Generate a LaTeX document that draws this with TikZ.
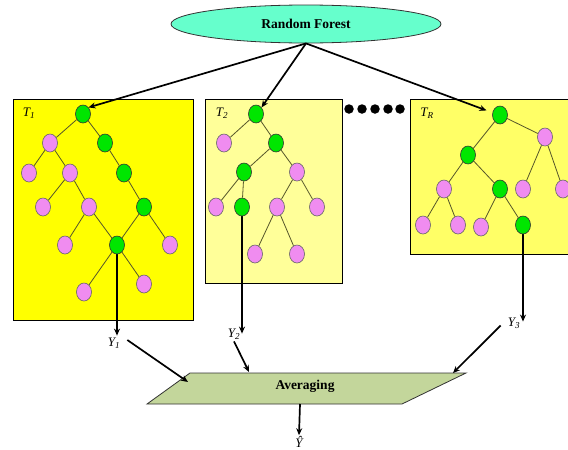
\documentclass[tikz,border=0pt]{standalone}
\usepackage{fontspec}
\setmainfont{Liberation Serif}
\usetikzlibrary{shapes.geometric,arrows.meta}
\definecolor{rfcyan}{HTML}{66FFCC}
\definecolor{leafpink}{HTML}{F08CF0}
\definecolor{splitgreen}{HTML}{00E600}
\definecolor{boxA}{HTML}{FFFF00}
\definecolor{boxB}{HTML}{FFFF99}
\definecolor{boxC}{HTML}{FFFF66}
\definecolor{avgfill}{HTML}{C3D69B}
\definecolor{edgecol}{HTML}{55552A}
\pgfdeclarelayer{bg}
\pgfdeclarelayer{mid}
\pgfsetlayers{bg,mid,main}
\tikzset{
  gn/.style={ellipse,draw=black!80,line width=0.6pt,fill=splitgreen,minimum width=15pt,minimum height=18pt,inner sep=0pt},
  pn/.style={ellipse,draw=black!60,line width=0.6pt,fill=leafpink,minimum width=15pt,minimum height=18pt,inner sep=0pt},
  te/.style={draw=edgecol,line width=0.8pt},
  treebox/.style={draw=black,line width=0.9pt},
  bigarrow/.style={draw=black,line width=1.7pt,-{Stealth[length=7pt,width=6pt]}},
  lbl/.style={font=\itshape\fontsize{13}{14}\selectfont,inner sep=1pt},
  dotn/.style={circle,fill=black,minimum size=9.5pt,inner sep=0pt}
}
\begin{document}
\begin{tikzpicture}[x=1pt,y=-1pt]
\useasboundingbox (0,0) rectangle (568,450);
% Random Forest ellipse
\node[ellipse,draw=black!80,line width=0.8pt,fill=rfcyan,minimum width=270pt,minimum height=38pt,font=\bfseries\fontsize{13.5}{15}\selectfont] (rf) at (306,24) {Random Forest};
% boxes
\begin{pgfonlayer}{bg}
\fill[boxA,treebox] (13,99) rectangle (193,320);
\fill[boxB,treebox] (205,99) rectangle (342,283);
\fill[boxC,treebox] (410,99) rectangle (570,254);
\end{pgfonlayer}
\node[lbl] (t1) at (29,113) {T\textsubscript{\textit{1}}};
\node[lbl] (t2) at (222,113) {T\textsubscript{\textit{2}}};
\node[lbl] (tr) at (427,113) {T\textsubscript{\textit{R}}};
% dots
\foreach \i/\x in {1/349,2/362,3/375,4/388,5/400} \node[dotn] (d\i) at (\x,109) {};
% ---- Tree 1
\node[gn] (a1) at (83,114) {};
\node[pn] (a2) at (50,143) {};
\node[gn] (a3) at (105,143) {};
\node[pn] (a4) at (29,173) {};
\node[pn] (a5) at (70,173) {};
\node[gn] (a6) at (124,173) {};
\node[pn] (a7) at (43,207) {};
\node[pn] (a8) at (89,207) {};
\node[gn] (a9) at (144,207) {};
\node[pn] (a10) at (65,245) {};
\node[gn] (a11) at (117,245) {};
\node[pn] (a12) at (170,245) {};
\node[pn] (a13) at (84,292) {};
\node[pn] (a14) at (144,284) {};
% ---- Tree 2
\node[gn] (b1) at (256,114) {};
\node[pn] (b2) at (224,143) {};
\node[gn] (b3) at (276,143) {};
\node[gn] (b4) at (244,172) {};
\node[pn] (b5) at (297,172) {};
\node[pn] (b6) at (216,207) {};
\node[gn] (b7) at (242,207) {};
\node[pn] (b8) at (277,207) {};
\node[pn] (b9) at (317,207) {};
\node[pn] (b10) at (255,254) {};
\node[pn] (b11) at (297,254) {};
% ---- Tree R
\node[gn] (c1) at (500,115) {};
\node[pn] (c2) at (545,137) {};
\node[gn] (c3) at (468,155) {};
\node[pn] (c4) at (444,189) {};
\node[gn] (c5) at (500,189) {};
\node[pn] (c6) at (523,189) {};
\node[pn] (c7) at (563,189) {};
\node[pn] (c8) at (423,225) {};
\node[pn] (c9) at (458,225) {};
\node[pn] (c10) at (481,227) {};
\node[gn] (c11) at (523,225) {};
\begin{pgfonlayer}{mid}
\foreach \u/\v in {a1/a2,a1/a3,a2/a4,a2/a5,a3/a6,a5/a7,a5/a8,a6/a9,a8/a10,a8/a11,a9/a11,a9/a12,a11/a13,a11/a14,
                   b1/b2,b1/b3,b3/b4,b3/b5,b4/b6,b4/b7,b5/b8,b5/b9,b8/b10,b8/b11,
                   c1/c2,c1/c3,c2/c6,c2/c7,c3/c4,c3/c5,c4/c8,c4/c9,c5/c10,c5/c11}
  \draw[te] (\u) -- (\v);
\end{pgfonlayer}
% arrows from Random Forest
\draw[bigarrow] (rf.south) -- (a1.north east);
\draw[bigarrow] (rf.south) -- (b1.north east);
\draw[bigarrow] (rf.south) -- ([xshift=-8pt,yshift=-2pt]c1.north west);
% outputs
\node[lbl] (y1) at (114,343) {Y\textsubscript{\textit{1}}};
\node[lbl] (y2) at (234,334) {Y\textsubscript{\textit{2}}};
\node[lbl] (y3) at (514,323) {Y\textsubscript{\textit{3}}};
\begin{pgfonlayer}{mid}
\draw[bigarrow] (a11.south) -- ([yshift=1pt]a11.south |- y1.north);
\draw[bigarrow] (b7.south) -- ([yshift=-6pt]b7.south |- y2.north);
\draw[bigarrow] (c11.south) -- ([yshift=-5pt]c11.south |- y3.north);
\end{pgfonlayer}
% averaging parallelogram
\coordinate (p1) at (190,373);
\coordinate (p2) at (466,373);
\coordinate (p3) at (402,404);
\coordinate (p4) at (147,404);
\draw[fill=avgfill,draw=black!80,line width=0.8pt] (p1) -- (p2) -- (p3) -- (p4) -- cycle;
\node[font=\bfseries\fontsize{13.5}{15}\selectfont] (avg) at (305,386) {Averaging};
\coordinate (e1) at (188,382);
\coordinate (e2) at (249,372);
\coordinate (e3) at (453,373);
\coordinate (e4) at (300,404);
\draw[bigarrow] ([xshift=6pt,yshift=3pt]y1.east) -- (e1);
\draw[bigarrow] ([yshift=-1pt]y2.south) -- (e2);
\draw[bigarrow] ([xshift=-6pt,yshift=4pt]y3.south west) -- (e3);
\node[lbl] (yh) at (299,442) {Ŷ};
\draw[bigarrow] (e4) -- (yh.north);
\end{tikzpicture}
\end{document}
